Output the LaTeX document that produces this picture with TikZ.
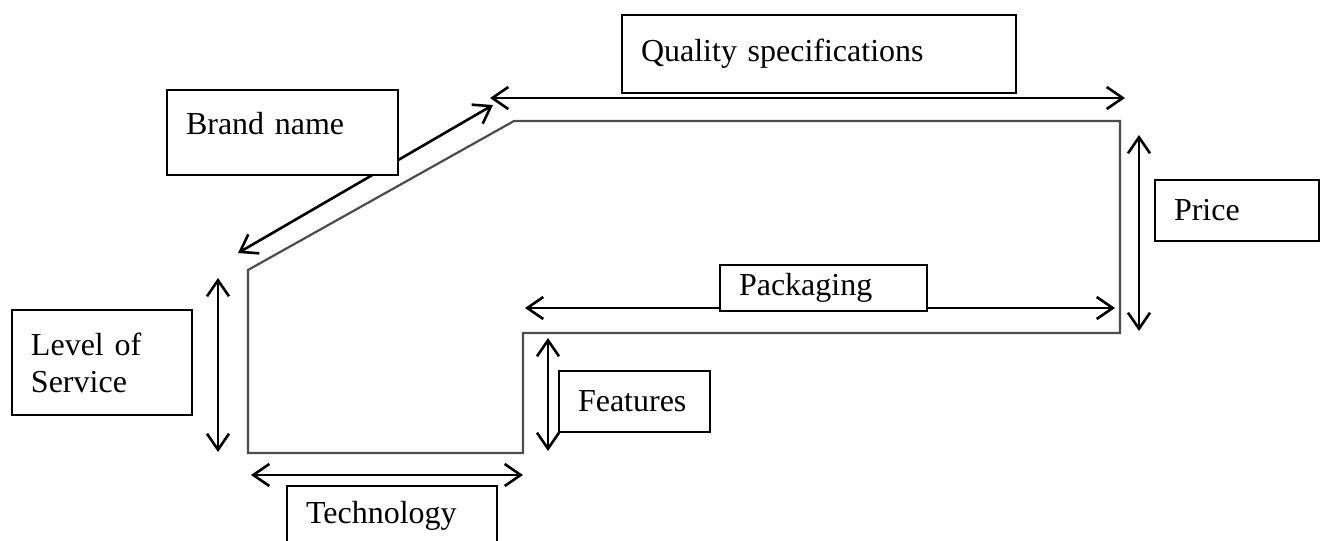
\documentclass[tikz,border=0pt]{standalone}
\usepackage{fontspec}
\setmainfont{Liberation Serif}
\usetikzlibrary{arrows.meta}

\tikzset{
  textbox/.style={draw, fill=white, line width=1pt, anchor=north west, align=left,
    inner xsep=9.5pt, inner ysep=0pt, font=\fontsize{16}{18.5}\selectfont},
  twoway/.style={<->, line width=1.3pt},
  outline/.style={draw=black!70, line width=1.1pt}
}

\begin{document}
\begin{tikzpicture}[x=0.5pt, y=-0.5pt, >={Straight Barb[length=8pt,width=11pt]}]
    \useasboundingbox (0,0) rectangle (1324,541);

    % outline of the product
    \coordinate (p1) at (248,270);
    \coordinate (p2) at (248,453);
    \coordinate (p3) at (523,453);
    \coordinate (p4) at (523,333);
    \coordinate (p5) at (1120,333);
    \coordinate (p6) at (1120,121);
    \coordinate (p7) at (514,121);
    \draw[outline] (p1) -- (p2) -- (p3) -- (p4) -- (p5) -- (p6) -- (p7) -- cycle;

    % arrow ends
    \coordinate (qual w) at (490,98);    \coordinate (qual e) at (1125,98);
    \coordinate (brand sw) at (238,253); \coordinate (brand ne) at (493,105);
    \coordinate (serv n) at (218,278);   \coordinate (serv s) at (218,452);
    \coordinate (tech w) at (251,475);   \coordinate (tech e) at (523,475);
    \coordinate (feat n) at (548,338);   \coordinate (feat s) at (548,451);
    \coordinate (pack w) at (525,308);   \coordinate (pack e) at (1115,308);
    \coordinate (price n) at (1139,135); \coordinate (price s) at (1139,331);

    \draw[twoway] (qual w) -- (qual e);
    \draw[twoway] (brand sw) -- (brand ne);
    \draw[twoway] (serv n) -- (serv s);
    \draw[twoway] (tech w) -- (tech e);
    \draw[twoway] (feat n) -- (feat s);
    \draw[twoway] (pack w) -- (pack e);
    \draw[twoway] (price n) -- (price s);

    % boxes, on top of the arrows
    \node[textbox, text width=178pt, minimum height=39pt] (quality) at (621,14) {Quality specifications};
    \node[textbox, text width=96.5pt, minimum height=42.5pt, text depth=9pt] (brand) at (166,89) {Brand name};
    \node[textbox, text width=71pt, minimum height=52.5pt] (service) at (11,309) {Level of\\Service};
    \node[textbox, text width=86pt, minimum height=30pt] (techno) at (286,485) {Technology};
    \node[textbox, text width=56.5pt, minimum height=30.5pt] (features) at (558,370) {Features};
    \node[textbox, text width=63pt, minimum height=30.5pt] (price) at (1154,179) {Price};
    \node[textbox, text width=84.5pt, minimum height=23pt] (packaging) at (719,264) {Packaging};
\end{tikzpicture}
\end{document}
